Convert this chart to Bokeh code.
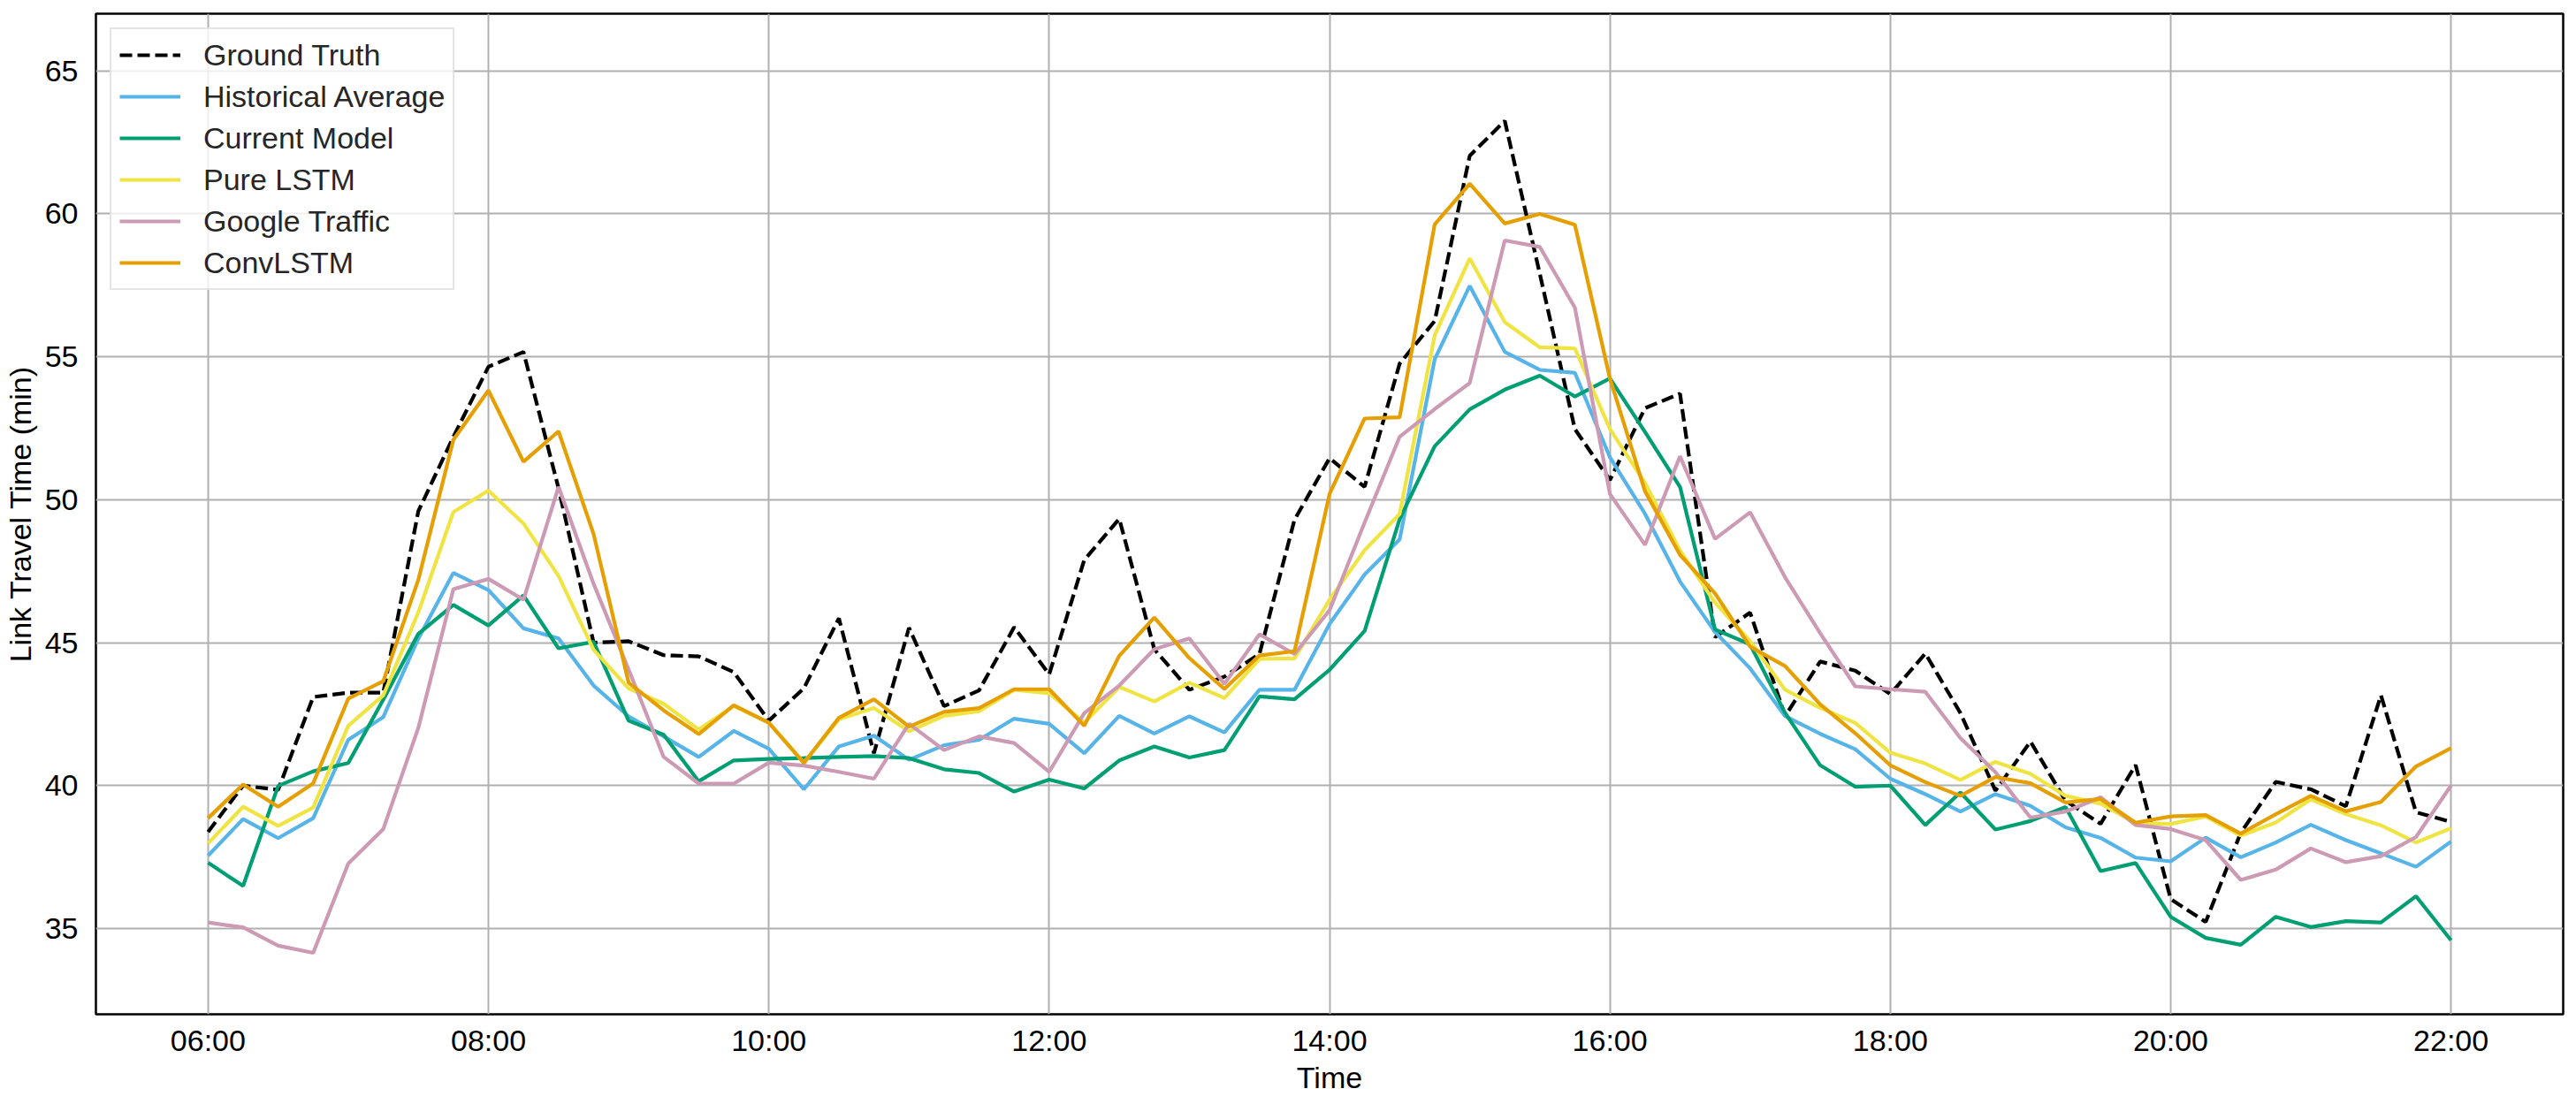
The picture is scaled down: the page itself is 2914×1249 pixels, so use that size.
from bokeh.plotting import figure
from bokeh.models import Range1d, FixedTicker
from bokeh.embed import file_html
from bokeh.resources import INLINE

# ---- data (15-minute steps from 06:00 to 22:00) ----
start_hour = 6.0
step_hours = 0.25

ground_truth = [38.38, 40.0, 39.85, 43.1, 43.25, 43.25, 49.6, 52.2, 54.65, 55.17, 50.4, 45.0, 45.05,
                44.56, 44.52, 43.97, 42.27, 43.4, 45.85, 41.13, 45.52, 42.78, 43.33, 45.54, 43.89,
                47.89, 49.33, 44.77, 43.35, 43.81, 44.6, 49.3, 51.45, 50.45, 54.76, 56.25, 62.03,
                63.25, 57.9, 52.47, 50.69, 53.2, 53.71, 45.19, 46.05, 42.43, 44.34, 44.02, 43.2,
                44.62, 42.54, 39.82, 41.54, 39.47, 38.66, 40.72, 36.03, 35.23, 38.35, 40.13, 39.87,
                39.28, 43.16, 39.07, 38.73]

historical_average = [37.55, 38.83, 38.16, 38.86, 41.6, 42.4, 45.14, 47.44, 46.84, 45.5, 45.15, 43.5,
                      42.42, 41.72, 41.0, 41.91, 41.29, 39.87, 41.37, 41.75, 40.9, 41.41, 41.6, 42.34,
                      42.16, 41.13, 42.44, 41.82, 42.42, 41.86, 43.35, 43.35, 45.65, 47.38, 48.61,
                      54.91, 57.48, 55.17, 54.54, 54.44, 51.48, 49.51, 47.14, 45.37, 44.1, 42.43,
                      41.81, 41.27, 40.24, 39.7, 39.09, 39.7, 39.29, 38.54, 38.17, 37.48, 37.35,
                      38.18, 37.49, 38.01, 38.63, 38.09, 37.63, 37.16, 38.04]

current_model = [37.3, 36.49, 39.99, 40.5, 40.79, 43.01, 45.31, 46.32, 45.6, 46.65, 44.8, 45.03, 42.27,
                 41.78, 40.15, 40.88, 40.93, 40.96, 41.0, 41.03, 40.96, 40.57, 40.44, 39.79, 40.21,
                 39.9, 40.88, 41.37, 40.98, 41.24, 43.12, 43.02, 44.05, 45.41, 49.32, 51.87, 53.16,
                 53.85, 54.34, 53.61, 54.24, 52.37, 50.45, 45.46, 44.94, 42.54, 40.71, 39.96, 40.0,
                 38.62, 39.76, 38.46, 38.76, 39.25, 37.01, 37.29, 35.41, 34.67, 34.43, 35.41, 35.05,
                 35.26, 35.21, 36.13, 34.59]

pure_lstm = [37.98, 39.26, 38.59, 39.23, 42.09, 43.16, 46.06, 49.57, 50.32, 49.17, 47.33, 44.75, 43.4,
             42.86, 41.96, 42.78, 42.2, 40.8, 42.32, 42.71, 41.9, 42.44, 42.6, 43.35, 43.23, 42.2,
             43.45, 42.94, 43.6, 43.06, 44.43, 44.45, 46.5, 48.23, 49.5, 55.75, 58.44, 56.21, 55.33,
             55.29, 52.47, 50.59, 48.22, 46.4, 45.05, 43.35, 42.72, 42.19, 41.15, 40.77, 40.2,
             40.83, 40.41, 39.64, 39.37, 38.68, 38.66, 38.92, 38.25, 38.71, 39.52, 39.0, 38.61,
             38.01, 38.51]

google_traffic = [35.21, 35.04, 34.4, 34.15, 37.27, 38.48, 42.02, 46.87, 47.23, 46.5, 50.45, 47.06,
                  44.06, 41.0, 40.07, 40.07, 40.8, 40.7, 40.48, 40.24, 42.16, 41.24, 41.72, 41.49,
                  40.48, 42.53, 43.5, 44.77, 45.15, 43.56, 45.29, 44.6, 46.13, 49.2, 52.2, 53.17,
                  54.08, 59.07, 58.84, 56.72, 50.2, 48.42, 51.52, 48.63, 49.56, 47.28, 45.33, 43.47,
                  43.37, 43.28, 41.66, 40.47, 38.88, 39.09, 39.59, 38.62, 38.48, 38.09, 36.7, 37.06,
                  37.8, 37.32, 37.53, 38.2, 40.0]

conv_lstm = [38.86, 40.04, 39.26, 40.08, 43.04, 43.65, 47.2, 52.1, 53.82, 51.33, 52.39, 48.8, 43.6,
             42.63, 41.8, 42.81, 42.2, 40.79, 42.37, 43.02, 42.06, 42.58, 42.71, 43.37, 43.37, 42.09,
             44.54, 45.88, 44.46, 43.38, 44.55, 44.7, 50.2, 52.84, 52.88, 59.63, 61.05, 59.66, 60.0,
             59.62, 54.24, 50.3, 48.07, 46.72, 44.86, 44.18, 42.84, 41.83, 40.71, 40.12, 39.64,
             40.3, 40.08, 39.41, 39.53, 38.7, 38.92, 38.97, 38.32, 39.0, 39.64, 39.1, 39.43, 40.67,
             41.31]

tick_hours = [6, 8, 10, 12, 14, 16, 18, 20, 22]
tick_labels = ["06:00", "08:00", "10:00", "12:00", "14:00", "16:00", "18:00", "20:00", "22:00"]
y_ticks = [35, 40, 45, 50, 55, 60, 65]

series_names = ["Ground Truth", "Historical Average", "Current Model", "Pure LSTM",
                "Google Traffic", "ConvLSTM"]
series_values = [ground_truth, historical_average, current_model, pure_lstm, google_traffic, conv_lstm]
series_colors = ["#000000", "#56B4E9", "#009E73", "#F0E442", "#CC9AB4", "#E69F00"]

hours = [start_hour + step_hours * i for i in range(len(ground_truth))]

FONT = "Liberation Sans"
FSIZE = "34px"

p = figure(width=2914, height=1249, output_backend="svg", toolbar_location=None,
           x_range=Range1d(5.2, 22.8), y_range=Range1d(32.0, 67.0))
p.min_border_left = 108
p.min_border_right = 15
p.min_border_top = 15
p.min_border_bottom = 102
p.outline_line_color = "black"
p.outline_line_width = 2.5
p.background_fill_color = "white"
p.border_fill_color = "white"

for name, vals, col in zip(series_names, series_values, series_colors):
    if name == "Ground Truth":
        p.line(hours, vals, line_color=col, line_width=4.2, line_dash="14 6", legend_label=name)
    else:
        p.line(hours, vals, line_color=col, line_width=4.2, legend_label=name)

# axes
p.xaxis.ticker = FixedTicker(ticks=tick_hours)
p.xaxis.major_label_overrides = {h: lab for h, lab in zip(tick_hours, tick_labels)}
p.yaxis.ticker = FixedTicker(ticks=y_ticks)
for ax in (p.xaxis[0], p.yaxis[0]):
    ax.axis_line_color = None
    ax.major_tick_line_color = None
    ax.minor_tick_line_color = None
    ax.major_label_text_font = FONT
    ax.major_label_text_font_size = FSIZE
    ax.major_label_text_color = "black"
    ax.axis_label_text_font = FONT
    ax.axis_label_text_font_size = FSIZE
    ax.axis_label_text_font_style = "normal"
    ax.axis_label_text_color = "black"
p.xaxis.axis_label = "Time"
p.yaxis.axis_label = "Link Travel Time (min)"
p.xaxis.major_label_standoff = 4
p.yaxis.major_label_standoff = 14
p.xaxis.axis_label_standoff = 1
p.yaxis.axis_label_standoff = 6

p.xgrid.ticker = FixedTicker(ticks=tick_hours)
p.ygrid.ticker = FixedTicker(ticks=y_ticks)
for g in (p.xgrid[0], p.ygrid[0]):
    g.grid_line_color = "#b0b0b0"
    g.grid_line_width = 2

# legend
lg = p.legend[0]
lg.location = "top_left"
lg.margin = 16
lg.padding = 9
lg.spacing = 7
lg.glyph_width = 69
lg.glyph_height = 40
lg.label_height = 40
lg.label_standoff = 26
lg.label_text_font = FONT
lg.label_text_font_size = FSIZE
lg.label_text_color = "#262626"
lg.border_line_color = "#cccccc"
lg.border_line_width = 2
lg.background_fill_color = "white"
lg.background_fill_alpha = 0.8

open("out.html", "w").write(file_html(p, INLINE))
